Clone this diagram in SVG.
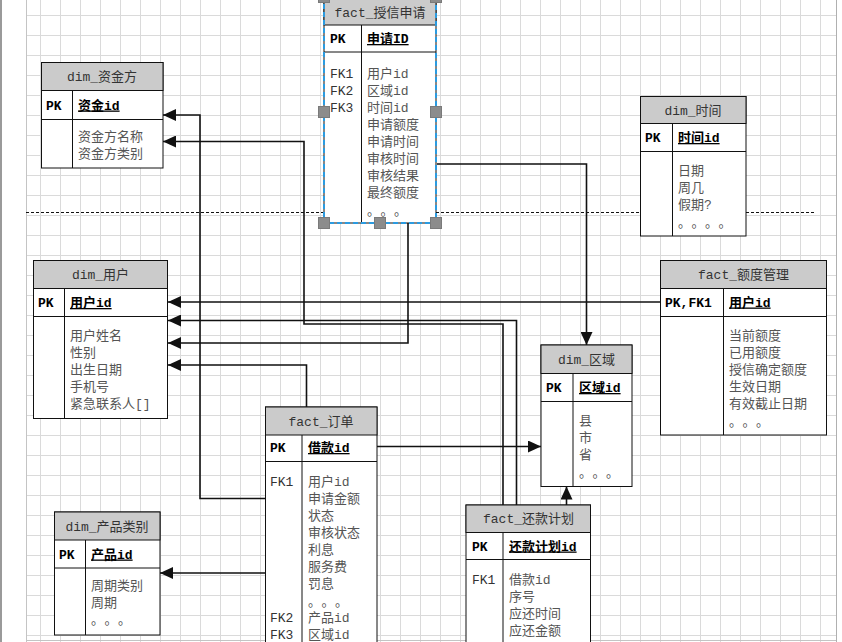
<svg xmlns="http://www.w3.org/2000/svg" width="842" height="642" viewBox="0 0 842 642">
<defs>
<pattern id="grid" patternUnits="userSpaceOnUse" x="0" y="15" width="20" height="20">
<path d="M0.5,0 V20 M0,0.5 H20" stroke="#dadada" stroke-width="1" fill="none"/>
</pattern>
<marker id="arr" markerUnits="userSpaceOnUse" markerWidth="13" markerHeight="12" refX="13" refY="6" orient="auto">
<path d="M0,0 L13,6 L0,12 z" fill="#111"/>
</marker>
<style>
text{font-family:"Liberation Mono","Noto Sans CJK SC",monospace;font-size:13px}
.box{fill:#fff;stroke:#111;stroke-width:1}
.hd{fill:#cbcbcb;stroke:#111;stroke-width:1}
.ln{stroke:#111;stroke-width:1}
.hdr{fill:#333;text-anchor:middle}
.pk{fill:#000;font-weight:bold}
.key{fill:#000;font-weight:bold;text-decoration:underline}
.fk{fill:#333}
.fld{fill:#555}
.dots{fill:#555;font-family:"Noto Sans CJK SC",sans-serif}
.con{fill:none;stroke:#111;stroke-width:1.6;marker-end:url(#arr)}
.hdl{fill:#8c8c8c;stroke:#7a7a7a;stroke-width:1}
</style>
</defs>
<rect x="0" y="0" width="842" height="642" fill="#fff"/>
<rect x="0" y="0" width="2" height="642" fill="#9a9a9a"/>
<rect x="26" y="0" width="810" height="642" fill="url(#grid)"/>
<line x1="26.5" y1="0" x2="26.5" y2="642" stroke="#c4c4c4"/>
<line x1="836.5" y1="0" x2="836.5" y2="642" stroke="#b0b0b0"/>
<line x1="26" y1="640.5" x2="836" y2="640.5" stroke="#c4c4c4"/>
<line x1="26" y1="212.5" x2="815" y2="212.5" stroke="#111" stroke-width="1" stroke-dasharray="3,2"/>

<g id="fact_shouxin">
<rect class="box" x="324" y="-3" width="112" height="226"/>
<rect class="hd" x="324" y="-3" width="112" height="28"/>
<line class="ln" x1="324" y1="52" x2="436" y2="52"/>
<line class="ln" x1="361.5" y1="25" x2="361.5" y2="223"/>
<text class="hdr" x="380" y="16.5">fact_授信申请</text>
<text class="pk" x="330" y="43">PK</text>
<text class="key" x="367" y="43">申请ID</text>
<text class="fk" x="330" y="78">FK1</text>
<text class="fk" x="330" y="95">FK2</text>
<text class="fk" x="330" y="112">FK3</text>
<text class="fld" x="367" y="78">用户id</text>
<text class="fld" x="367" y="95">区域id</text>
<text class="fld" x="367" y="112">时间id</text>
<text class="fld" x="367" y="129">申请额度</text>
<text class="fld" x="367" y="146">申请时间</text>
<text class="fld" x="367" y="163">审核时间</text>
<text class="fld" x="367" y="180">审核结果</text>
<text class="fld" x="367" y="197">最终额度</text>
<text class="dots" x="367 380.5 394" y="215">。。。</text>
<rect x="324" y="-3" width="112" height="226" fill="none" stroke="#2b9be0" stroke-width="2" stroke-dasharray="5,3"/>
<rect class="hdl" x="318.5" y="-8.5" width="11" height="11"/>
<rect class="hdl" x="430.5" y="-8.5" width="11" height="11"/>
<rect class="hdl" x="318.5" y="106.5" width="11" height="11"/>
<rect class="hdl" x="430.5" y="106.5" width="11" height="11"/>
<rect class="hdl" x="318.5" y="217.5" width="11" height="11"/>
<rect class="hdl" x="374.5" y="217.5" width="11" height="11"/>
<rect class="hdl" x="430.5" y="217.5" width="11" height="11"/>
</g>

<g id="dim_zijinfang">
<rect class="box" x="41.5" y="62.5" width="121.5" height="105.5"/>
<rect class="hd" x="41.5" y="62.5" width="121.5" height="28"/>
<line class="ln" x1="41.5" y1="119.5" x2="163" y2="119.5"/>
<line class="ln" x1="72.5" y1="90.5" x2="72.5" y2="168"/>
<text class="hdr" x="102" y="81">dim_资金方</text>
<text class="pk" x="46" y="109.5">PK</text>
<text class="key" x="78" y="109.5">资金id</text>
<text class="fld" x="78" y="140.5">资金方名称</text>
<text class="fld" x="78" y="157.5">资金方类别</text>
</g>

<g id="dim_shijian">
<rect class="box" x="640.5" y="96.5" width="105.5" height="139.5"/>
<rect class="hd" x="640.5" y="96.5" width="105.5" height="27"/>
<line class="ln" x1="640.5" y1="151.5" x2="746" y2="151.5"/>
<line class="ln" x1="672.5" y1="123.5" x2="672.5" y2="236"/>
<text class="hdr" x="693" y="114.5">dim_时间</text>
<text class="pk" x="645" y="142">PK</text>
<text class="key" x="678" y="142">时间id</text>
<text class="fld" x="678" y="174.5">日期</text>
<text class="fld" x="678" y="191.5">周几</text>
<text class="fld" x="678" y="208.5">假期?</text>
<text class="dots" x="678 691.5 705 718.5" y="226.5">。。。。</text>
</g>

<g id="dim_yonghu">
<rect class="box" x="33.5" y="260.5" width="134" height="158"/>
<rect class="hd" x="33.5" y="260.5" width="134" height="28"/>
<line class="ln" x1="33.5" y1="316.5" x2="167.5" y2="316.5"/>
<line class="ln" x1="64.5" y1="288.5" x2="64.5" y2="418.5"/>
<text class="hdr" x="100.5" y="279">dim_用户</text>
<text class="pk" x="38" y="307">PK</text>
<text class="key" x="70" y="307">用户id</text>
<text class="fld" x="70" y="339.5">用户姓名</text>
<text class="fld" x="70" y="356.5">性别</text>
<text class="fld" x="70" y="373.5">出生日期</text>
<text class="fld" x="70" y="390.5">手机号</text>
<text class="fld" x="70" y="408">紧急联系人[]</text>
</g>

<g id="fact_edu">
<rect class="box" x="660.5" y="260.5" width="166" height="174.5"/>
<rect class="hd" x="660.5" y="260.5" width="166" height="28"/>
<line class="ln" x1="660.5" y1="316.5" x2="826.5" y2="316.5"/>
<line class="ln" x1="723.5" y1="288.5" x2="723.5" y2="435"/>
<text class="hdr" x="743.5" y="279">fact_额度管理</text>
<text class="pk" x="665" y="306.5">PK,FK1</text>
<text class="key" x="729" y="306.5">用户id</text>
<text class="fld" x="729" y="339.5">当前额度</text>
<text class="fld" x="729" y="356.5">已用额度</text>
<text class="fld" x="729" y="373.5">授信确定额度</text>
<text class="fld" x="729" y="390.5">生效日期</text>
<text class="fld" x="729" y="407.5">有效截止日期</text>
<text class="dots" x="729 742.5 756" y="425.5">。。。</text>
</g>

<g id="dim_quyu">
<rect class="box" x="541" y="345" width="91" height="141.5"/>
<rect class="hd" x="541" y="345" width="91" height="28.5"/>
<line class="ln" x1="541" y1="401.5" x2="632" y2="401.5"/>
<line class="ln" x1="573" y1="373.5" x2="573" y2="486.5"/>
<text class="hdr" x="586.5" y="364">dim_区域</text>
<text class="pk" x="546" y="392">PK</text>
<text class="key" x="579" y="392">区域id</text>
<text class="fld" x="579" y="424.5">县</text>
<text class="fld" x="579" y="441.5">市</text>
<text class="fld" x="579" y="458.5">省</text>
<text class="dots" x="579 592.5 606" y="477">。。。</text>
</g>

<g id="fact_dingdan">
<rect class="box" x="265.5" y="407" width="111.5" height="245"/>
<rect class="hd" x="265.5" y="407" width="111.5" height="28"/>
<line class="ln" x1="265.5" y1="461.5" x2="377" y2="461.5"/>
<line class="ln" x1="302" y1="435" x2="302" y2="652"/>
<text class="hdr" x="321" y="425.5">fact_订单</text>
<text class="pk" x="270" y="452">PK</text>
<text class="key" x="308" y="452">借款id</text>
<text class="fk" x="270" y="486">FK1</text>
<text class="fk" x="270" y="622">FK2</text>
<text class="fk" x="270" y="639">FK3</text>
<text class="fld" x="308" y="486">用户id</text>
<text class="fld" x="308" y="503">申请金额</text>
<text class="fld" x="308" y="520">状态</text>
<text class="fld" x="308" y="537">审核状态</text>
<text class="fld" x="308" y="554">利息</text>
<text class="fld" x="308" y="571">服务费</text>
<text class="fld" x="308" y="588">罚息</text>
<text class="dots" x="308 321.5 335" y="606">。。。</text>
<text class="fld" x="308" y="622">产品id</text>
<text class="fld" x="308" y="639">区域id</text>
</g>

<g id="dim_chanpin">
<rect class="box" x="54.5" y="512" width="105.5" height="123"/>
<rect class="hd" x="54.5" y="512" width="105.5" height="28"/>
<line class="ln" x1="54.5" y1="568" x2="160" y2="568"/>
<line class="ln" x1="85.5" y1="540" x2="85.5" y2="635"/>
<text class="hdr" x="107" y="530.5">dim_产品类别</text>
<text class="pk" x="59" y="558.5">PK</text>
<text class="key" x="91" y="558.5">产品id</text>
<text class="fld" x="91" y="589.5">周期类别</text>
<text class="fld" x="91" y="606.5">周期</text>
<text class="dots" x="91 104.5 118" y="624">。。。</text>
</g>

<g id="fact_huankuan">
<rect class="box" x="466" y="505" width="124.5" height="147"/>
<rect class="hd" x="466" y="505" width="124.5" height="27.5"/>
<line class="ln" x1="466" y1="559.5" x2="590.5" y2="559.5"/>
<line class="ln" x1="503" y1="532.5" x2="503" y2="652"/>
<text class="hdr" x="528.5" y="523">fact_还款计划</text>
<text class="pk" x="472" y="550.5">PK</text>
<text class="key" x="509" y="550.5">还款计划id</text>
<text class="fk" x="472" y="583.5">FK1</text>
<text class="fld" x="509" y="583.5">借款id</text>
<text class="fld" x="509" y="600.5">序号</text>
<text class="fld" x="509" y="617.5">应还时间</text>
<text class="fld" x="509" y="634.5">应还金额</text>
</g>

<g id="connectors">
<path class="con" d="M660,302 H168"/>
<path class="con" d="M516.5,505 V320.5 H168"/>
<path class="con" d="M503,505 V324 H304 V141.5 H163"/>
<path class="con" d="M408,223 V343 H168"/>
<path class="con" d="M306.5,407 V365 H168"/>
<path class="con" d="M437,164 H586.5 V345"/>
<path class="con" d="M377,446.5 H541"/>
<path class="con" d="M265,498.5 H200 V115 H163"/>
<path class="con" d="M265,573 H160"/>
<path class="con" d="M566.5,505 V486.5"/>
</g>
</svg>
